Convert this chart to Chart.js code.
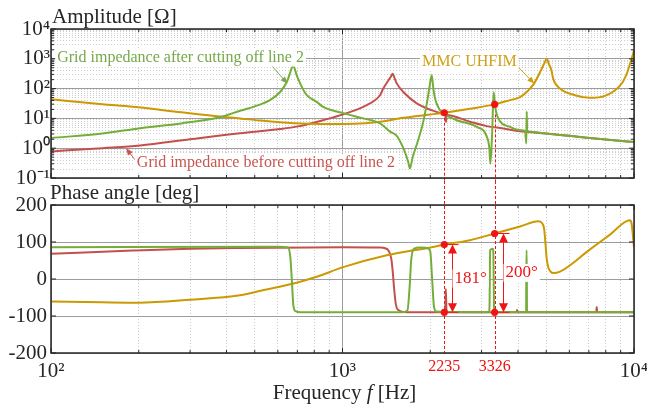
<!DOCTYPE html>
<html>
<head>
<meta charset="utf-8">
<title>Grid impedance vs MMC UHFIM</title>
<script src="https://cdn.jsdelivr.net/npm/chart.js@4.4.1/dist/chart.umd.min.js"></script>
<style>
  body { margin: 0; background: #fff; }
  #wrap { position: relative; width: 647px; height: 404px; }
  #wrap canvas { position: absolute; left: 0; }
  #ampChart { top: 0; z-index: 2; }
  #phaseChart { top: 181px; z-index: 1; }
</style>
</head>
<body>
<div id="wrap">
  <canvas id="ampChart" width="647" height="190"></canvas>
  <canvas id="phaseChart" width="647" height="223"></canvas>
</div>
<script>
// Marked crossing frequencies and the phase gap there
const markFreq = [2235, 3326];
const markAmp = [15.5, 29.5];
const markPhaseTop = [93, 123];
const markPhaseBottom = [-90, -90];
const markText = ['181°', '200°'];

// Grid impedance after cutting off line 2
const greenAmpFreq = [100, 150, 202, 280, 380, 445, 521, 564, 611, 644, 660, 670, 678, 686, 695, 704, 730, 754, 815, 858, 1006, 1178, 1345, 1455, 1535, 1617, 1680, 1704, 1740, 1797, 1893, 1950, 1990, 2023, 2050, 2077, 2130, 2190, 2235, 2465, 2887, 3124, 3190, 3215, 3260, 3300, 3340, 3424, 3754, 4100, 4230, 4270, 4285, 4300, 4350, 5000, 6000, 8000, 10000];
const greenAmp = [2.2, 3.1, 4.7, 6.8, 11, 18, 29, 41, 77, 166, 320, 500, 600, 450, 300, 215, 100, 60, 36, 24.5, 15, 10, 6.8, 3.6, 2.6, 1.0, 0.35, 0.21, 0.5, 1.3, 7.8, 35, 120, 280, 100, 47, 24, 16, 14, 8.7, 5.2, 2.5, 1.0, 0.3, 3, 75, 25, 10, 5.2, 4.0, 3.8, 1.45, 17, 4, 3.6, 3.1, 2.6, 1.95, 1.6];
const greenPhFreq = [100, 600, 650, 662, 670, 678, 690, 720, 1600, 1670, 1700, 1720, 1760, 1850, 1950, 2000, 2030, 2060, 2100, 3180, 3195, 3210, 3280, 3295, 3310, 3330, 4265, 4275, 4285, 4295, 10000];
const greenPh = [86, 87, 85, 60, 0, -70, -87, -90, -90, -85, -20, 50, 82, 85, 84, 75, 0, -75, -88, -90, -70, 78, 82, 60, -80, -90, -90, 77, 77, -90, -90];

// Grid impedance before cutting off line 2
const redAmpFreq = [100, 150, 202, 300, 445, 611, 704, 858, 1034, 1211, 1345, 1380, 1438, 1465, 1487, 1510, 1535, 1617, 1797, 2100, 2235, 2255, 2265, 2275, 2737, 3124, 3561, 4064, 5000, 6000, 8000, 10000];
const redAmp = [0.78, 1.0, 1.23, 2.0, 3.2, 4.4, 5.4, 8.7, 15, 28, 60, 100, 190, 250, 316, 220, 150, 77, 32, 16.6, 14, 13.5, 7.5, 13, 7.7, 5.5, 4.6, 3.7, 3.1, 2.6, 1.95, 1.6];
const redPhFreq = [100, 191, 300, 445, 1000, 1345, 1400, 1440, 1470, 1487, 1505, 1525, 1555, 1664, 2250, 2262, 2275, 3950, 3970, 3990, 7420, 7450, 7480, 10000];
const redPh = [68, 77, 82, 84, 86, 85, 83, 76, 55, 20, -30, -70, -84, -90, -90, -27, -90, -90, -84, -90, -90, -76, -90, -90];

// MMC UHFIM
const goldAmpFreq = [100, 150, 191, 280, 380, 445, 520, 680, 900, 1006, 1200, 1345, 1617, 2000, 2235, 2737, 3326, 3754, 4064, 4284, 4540, 4759, 4915, 5017, 5110, 5206, 5280, 5574, 6276, 7063, 7954, 8953, 9400, 9810, 10000];
const goldAmp = [44, 30, 24.5, 16, 11.5, 10, 8.5, 6.9, 6.5, 6.5, 6.9, 7.7, 10.5, 13.5, 15.5, 21, 29.5, 41, 52, 77, 147, 355, 680, 1000, 650, 420, 215, 100, 60, 49, 57, 125, 280, 1000, 1900];
const goldPhFreq = [100, 150, 200, 300, 445, 537, 696, 815, 1006, 1418, 2023, 2235, 2737, 3326, 4064, 4696, 4825, 4915, 4965, 5017, 5080, 5175, 5280, 5574, 7063, 8273, 9683, 9810, 10000];
const goldPh = [-61, -63, -64, -56, -44, -30, -10, 6, 32, 64, 86, 93, 105, 123, 142, 156, 152, 136, 100, 55, 32, 20, 16, 20, 80, 120, 159, 150, 86];

const phaseTicks = [-200, -100, 0, 100, 200];

const SERIF = "'Liberation Serif', 'Times New Roman', serif";
const INK = '#262626';
const GREEN = '#74ae38', RED = '#c4504c', GOLD = '#cc9900', MARK = '#f01414';
const GREEN_TXT = '#76a84a', RED_TXT = '#c8554f', GOLD_TXT = '#cfa01a';

Chart.defaults.font.family = SERIF;
Chart.defaults.color = INK;

function series(freqs, vals) {
  return freqs.map((f, i) => ({ x: f, y: vals[i] }));
}

// 1..9 x 10^n ticks, only the powers of ten are major
function decadeTicks(lo, hi) {
  const out = [];
  for (let e = Math.round(Math.log10(lo)); e < Math.round(Math.log10(hi)); e++) {
    for (let m = 1; m < 10; m++) out.push({ value: m * Math.pow(10, e), major: m === 1 });
  }
  out.push({ value: hi, major: true });
  return out;
}

function sup(n) {
  const map = { '-': '⁻', '0': '⁰', '1': '¹', '2': '²', '3': '³', '4': '⁴' };
  return String(n).split('').map(c => map[c]).join('');
}

function logLabel(value, index, ticks) {
  if (!ticks[index].major) return '';
  return '10' + sup(Math.round(Math.log10(value)));
}

const gridColor = ctx => (ctx.tick && ctx.tick.major) ? '#9c9c9c' : '#cdcdcd';
const gridDash = ctx => (ctx.tick && !ctx.tick.major) ? [1, 2] : [];

function freqAxis(showLabels) {
  return {
    type: 'logarithmic',
    min: 100,
    max: 10000,
    afterBuildTicks: s => { s.ticks = decadeTicks(100, 10000); },
    grid: { color: gridColor, drawTicks: false },
    border: { display: false, dash: gridDash },
    ticks: { display: showLabels, autoSkip: false, maxRotation: 0, padding: 6, font: { size: 21 }, callback: logLabel },
    afterFit: s => { s.height = showLabels ? 51 : 0; s.paddingLeft = 0; s.paddingRight = 0; }
  };
}

function curve(label, freqs, vals, color) {
  return {
    label: label, data: series(freqs, vals), borderColor: color, borderWidth: 2,
    pointRadius: 0, borderJoinStyle: 'round', cubicInterpolationMode: 'monotone'
  };
}

function dots(freqs, vals) {
  return { label: 'marks', data: series(freqs, vals), showLine: false, pointRadius: 3.6, pointBackgroundColor: MARK, pointBorderWidth: 0 };
}

function arrow(ctx, x1, y1, x2, y2, color, size) {
  const a = Math.atan2(y2 - y1, x2 - x1), c = Math.cos(a), s = Math.sin(a);
  ctx.strokeStyle = color;
  ctx.fillStyle = color;
  ctx.lineWidth = 1;
  ctx.beginPath();
  ctx.moveTo(x1, y1);
  ctx.lineTo(x2 - size * 0.8 * c, y2 - size * 0.8 * s);
  ctx.stroke();
  ctx.beginPath();
  ctx.moveTo(x2, y2);
  ctx.lineTo(x2 - size * c + size * 0.42 * s, y2 - size * s - size * 0.42 * c);
  ctx.lineTo(x2 - size * c - size * 0.42 * s, y2 - size * s + size * 0.42 * c);
  ctx.closePath();
  ctx.fill();
}

function boxedText(ctx, text, x, y, color, font) {
  ctx.font = font;
  const w = ctx.measureText(text).width;
  ctx.fillStyle = '#fff';
  ctx.fillRect(x - 2, y - 9, w + 4, 18);
  ctx.fillStyle = color;
  ctx.textAlign = 'left';
  ctx.textBaseline = 'middle';
  ctx.fillText(text, x, y);
}

// frame with inward tick marks like the original figure
const framePlugin = {
  id: 'frame',
  afterDatasetsDraw(chart) {
    const { ctx, chartArea: a, scales } = chart;
    ctx.save();
    ctx.strokeStyle = INK;
    ctx.lineWidth = 1;
    ctx.beginPath();
    scales.x.ticks.forEach(t => {
      const px = scales.x.getPixelForValue(t.value), len = t.major ? 5 : 3;
      ctx.moveTo(px, a.bottom); ctx.lineTo(px, a.bottom - len);
      ctx.moveTo(px, a.top); ctx.lineTo(px, a.top + len);
    });
    scales.y.ticks.forEach(t => {
      const py = scales.y.getPixelForValue(t.value), len = t.major ? 5 : 3;
      ctx.moveTo(a.left, py); ctx.lineTo(a.left + len, py);
      ctx.moveTo(a.right, py); ctx.lineTo(a.right - len, py);
    });
    ctx.stroke();
    ctx.lineWidth = 1.5;
    ctx.strokeRect(a.left, a.top, a.right - a.left, a.bottom - a.top);
    ctx.restore();
  }
};

const ampNotes = [
  { text: 'Grid impedance after cutting off line 2', color: GREEN_TXT, at: [105, 1100], tail: [571, 598], head: [647, 147] },
  { text: 'MMC UHFIM', color: GOLD_TXT, at: [1874, 770], tail: [4009, 525], head: [4550, 147] },
  { text: 'Grid impedance before cutting off line 2', color: RED_TXT, at: [197, 0.32], tail: [194, 0.41], head: [181, 1.0] }
];

const ampNotesPlugin = {
  id: 'ampNotes',
  beforeDatasetsDraw(chart) {
    const { ctx, chartArea: a, scales: { x, y } } = chart;
    ctx.save();
    ctx.strokeStyle = MARK;
    ctx.lineWidth = 1;
    ctx.setLineDash([3, 2]);
    markFreq.forEach((f, i) => {
      const px = Math.round(x.getPixelForValue(f)) + 0.5;
      ctx.beginPath();
      ctx.moveTo(px, y.getPixelForValue(markAmp[i]));
      ctx.lineTo(px, a.bottom + 3);
      ctx.stroke();
    });
    ctx.restore();
  },
  afterDatasetsDraw(chart) {
    const { ctx, chartArea: a, scales: { x, y } } = chart;
    ctx.save();
    ctx.font = '21px ' + SERIF;
    ctx.fillStyle = INK;
    ctx.textAlign = 'left';
    ctx.textBaseline = 'alphabetic';
    ctx.fillText('Amplitude [Ω]', a.left + 1, 23);
    ampNotes.forEach(n => {
      arrow(ctx, x.getPixelForValue(n.tail[0]), y.getPixelForValue(n.tail[1]),
        x.getPixelForValue(n.head[0]), y.getPixelForValue(n.head[1]), n.color, 7);
      boxedText(ctx, n.text, x.getPixelForValue(n.at[0]), y.getPixelForValue(n.at[1]), n.color, '16px ' + SERIF);
    });
    ctx.restore();
  }
};

const phaseNotesPlugin = {
  id: 'phaseNotes',
  beforeDatasetsDraw(chart) {
    const { ctx, chartArea: a, scales: { x } } = chart;
    ctx.save();
    ctx.strokeStyle = MARK;
    ctx.lineWidth = 1;
    ctx.setLineDash([3, 2]);
    markFreq.forEach(f => {
      const px = Math.round(x.getPixelForValue(f)) + 0.5;
      ctx.beginPath();
      ctx.moveTo(px, 0);
      ctx.lineTo(px, a.bottom);
      ctx.stroke();
    });
    ctx.restore();
  },
  afterDatasetsDraw(chart) {
    const { ctx, chartArea: a, scales: { x, y } } = chart;
    ctx.save();
    ctx.font = '21px ' + SERIF;
    ctx.fillStyle = INK;
    ctx.textAlign = 'left';
    ctx.textBaseline = 'alphabetic';
    ctx.fillText('Phase angle [deg]', a.left - 1, 18);

    // double arrows showing the phase difference
    markFreq.forEach((f, i) => {
      const dx = x.getPixelForValue(f);
      const ax = Math.round(dx) + 8.5;
      const yt = y.getPixelForValue(markPhaseTop[i]);
      const yb = y.getPixelForValue(markPhaseBottom[i]);
      ctx.strokeStyle = MARK;
      ctx.fillStyle = MARK;
      ctx.lineWidth = 1;
      ctx.beginPath();
      ctx.moveTo(dx, yt); ctx.lineTo(ax + 6, yt);
      ctx.moveTo(dx, yb); ctx.lineTo(ax + 6, yb);
      ctx.moveTo(ax, yt + 8); ctx.lineTo(ax, yb - 8);
      ctx.stroke();
      ctx.beginPath();
      ctx.moveTo(ax, yt); ctx.lineTo(ax - 4.5, yt + 9); ctx.lineTo(ax + 4.5, yt + 9); ctx.closePath();
      ctx.moveTo(ax, yb); ctx.lineTo(ax - 4.5, yb - 9); ctx.lineTo(ax + 4.5, yb - 9); ctx.closePath();
      ctx.fill();
      boxedText(ctx, markText[i], ax + 2, (yt + yb) / 2, MARK, '17px ' + SERIF);

      ctx.font = '16px ' + SERIF;
      ctx.fillStyle = MARK;
      ctx.textAlign = 'center';
      ctx.textBaseline = 'middle';
      ctx.fillText(String(f), dx, a.bottom + 14);
    });

    // x axis title with italic f
    const parts = [['Frequency ', '21px '], ['f', 'italic 21px '], [' [Hz]', '21px ']];
    let total = 0;
    parts.forEach(p => { ctx.font = p[1] + SERIF; total += ctx.measureText(p[0]).width; });
    let cx = (a.left + a.right) / 2 + 2 - total / 2;
    ctx.fillStyle = INK;
    ctx.textAlign = 'left';
    ctx.textBaseline = 'middle';
    parts.forEach(p => {
      ctx.font = p[1] + SERIF;
      ctx.fillText(p[0], cx, 212);
      cx += ctx.measureText(p[0]).width;
    });
    ctx.restore();
  }
};

new Chart(document.getElementById('ampChart'), {
  type: 'line',
  data: {
    datasets: [
      dots(markFreq, markAmp),
      curve('Grid impedance after cutting off line 2', greenAmpFreq, greenAmp, GREEN),
      curve('MMC UHFIM', goldAmpFreq, goldAmp, GOLD),
      curve('Grid impedance before cutting off line 2', redAmpFreq, redAmp, RED)
    ]
  },
  options: {
    responsive: false,
    animation: false,
    devicePixelRatio: 1,
    layout: { padding: { top: 29, right: 13, bottom: 12, left: 0 } },
    plugins: { legend: { display: false }, tooltip: { enabled: false } },
    scales: {
      x: freqAxis(false),
      y: {
        type: 'logarithmic',
        min: 0.1,
        max: 10000,
        afterBuildTicks: s => { s.ticks = decadeTicks(0.1, 10000); },
        grid: { color: gridColor, drawTicks: false },
        border: { display: false, dash: gridDash },
        ticks: { autoSkip: false, padding: 1, font: { size: 21, lineHeight: 1 }, callback: logLabel },
        afterFit: s => { s.width = 51; s.paddingTop = 0; s.paddingBottom = 0; }
      }
    }
  },
  plugins: [framePlugin, ampNotesPlugin]
});

new Chart(document.getElementById('phaseChart'), {
  type: 'line',
  data: {
    datasets: [
      dots(markFreq.concat(markFreq), markPhaseTop.concat(markPhaseBottom)),
      curve('Grid impedance after cutting off line 2', greenPhFreq, greenPh, GREEN),
      curve('MMC UHFIM', goldPhFreq, goldPh, GOLD),
      curve('Grid impedance before cutting off line 2', redPhFreq, redPh, RED)
    ]
  },
  options: {
    responsive: false,
    animation: false,
    devicePixelRatio: 1,
    layout: { padding: { top: 24, right: 13, bottom: 0, left: 0 } },
    plugins: { legend: { display: false }, tooltip: { enabled: false } },
    scales: {
      x: freqAxis(true),
      y: {
        type: 'linear',
        min: -200,
        max: 200,
        afterBuildTicks: s => { s.ticks = phaseTicks.map(v => ({ value: v, major: true })); },
        grid: { color: '#9c9c9c', drawTicks: false },
        border: { display: false },
        ticks: { padding: 4, font: { size: 21, lineHeight: 1 }, callback: v => String(v) },
        afterFit: s => { s.width = 51; s.paddingTop = 0; s.paddingBottom = 0; }
      }
    }
  },
  plugins: [framePlugin, phaseNotesPlugin]
});
</script>
</body>
</html>
